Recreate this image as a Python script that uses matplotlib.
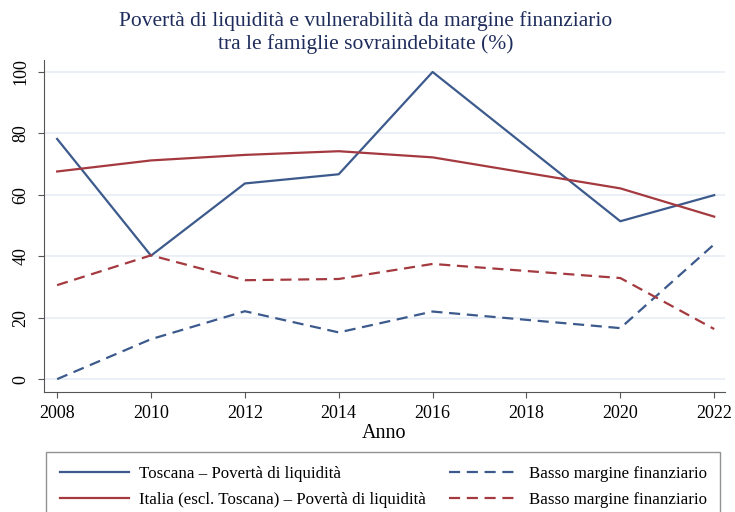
import matplotlib.pyplot as plt
from matplotlib.lines import Line2D

plt.rcParams['font.family'] = ['Liberation Serif', 'DejaVu Serif']

anni = [2008, 2010, 2012, 2014, 2016, 2020, 2022]
toscana_liq = [78.2, 40.2, 63.7, 66.7, 100.0, 51.4, 59.9]
italia_liq = [67.6, 71.2, 73.0, 74.2, 72.2, 62.1, 52.9]
toscana_basso = [0.0, 13.0, 22.1, 15.2, 22.0, 16.6, 43.9]
italia_basso = [30.6, 40.3, 32.2, 32.6, 37.5, 32.9, 16.3]

xticks = [2008, 2010, 2012, 2014, 2016, 2018, 2020, 2022]
yticks = [0, 20, 40, 60, 80, 100]

BLU = '#3c5a8c'
ROSSO = '#a43a40'
TRATTEGGIO = (0, (5, 3))

fig = plt.figure(figsize=(7.35, 5.12), dpi=100)
ax = fig.add_axes([44 / 735, 120 / 512, 681 / 735, 332 / 512])

ax.plot(anni, toscana_liq, color=BLU, lw=1.6)
ax.plot(anni, italia_liq, color=ROSSO, lw=1.6)
ax.plot(anni, toscana_basso, color=BLU, lw=1.6, ls=TRATTEGGIO)
ax.plot(anni, italia_basso, color=ROSSO, lw=1.6, ls=TRATTEGGIO)

ax.set_xlim(2007.72, 2022.23)
ax.set_ylim(-4.2, 103.9)
ax.set_xticks(xticks)
ax.set_yticks(yticks)
ax.tick_params(axis='x', labelsize=13, length=4.5, color='#555555', pad=5)
ax.tick_params(axis='y', labelsize=13, length=4.5, color='#555555', pad=6,
               labelrotation=90)
for lab in ax.get_yticklabels():
    lab.set_va('center')
ax.grid(axis='y', color='#e8eef5', lw=1.2)
ax.set_axisbelow(True)
for s in ['top', 'right']:
    ax.spines[s].set_visible(False)
for s in ['left', 'bottom']:
    ax.spines[s].set_color('#555555')
ax.set_xlabel('Anno', fontsize=14.5, labelpad=1)

fig.text(0.498, 0.978, 'Povertà di liquidità e vulnerabilità da margine finanziario\n'
         'tra le famiglie sovraindebitate (%)', ha='center', va='top',
         fontsize=15.5, color='#1f2d5c', linespacing=1.2)

handles = [
    Line2D([], [], color=BLU, lw=1.6),
    Line2D([], [], color=ROSSO, lw=1.6),
    Line2D([], [], color=BLU, lw=1.6, ls=TRATTEGGIO),
    Line2D([], [], color=ROSSO, lw=1.6, ls=TRATTEGGIO),
]
labels = ['Toscana – Povertà di liquidità',
          'Italia (escl. Toscana) – Povertà di liquidità',
          'Basso margine finanziario',
          'Basso margine finanziario']
leg = fig.legend(handles, labels, ncol=2, loc='upper left',
                 bbox_to_anchor=(46 / 735, 1 - 452 / 512),
                 fontsize=12.2, handlelength=4.1, frameon=True,
                 fancybox=False, edgecolor='#777777', borderaxespad=0,
                 borderpad=0.8, columnspacing=1.35, handletextpad=0.6,
                 labelspacing=0.6)
leg.get_frame().set_linewidth(1.0)

fig.savefig('out.png', dpi=100)
